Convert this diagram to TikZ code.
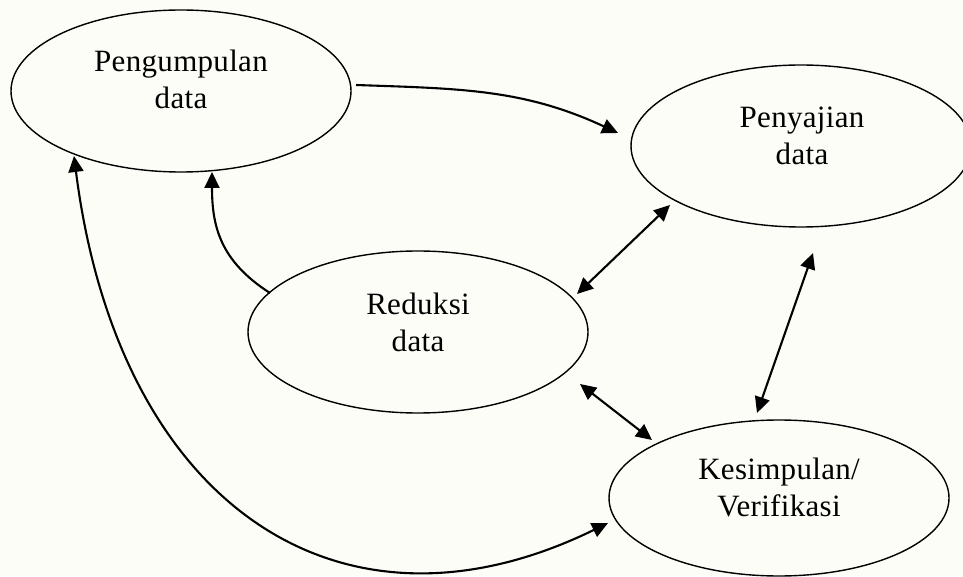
\documentclass[tikz,border=0pt]{standalone}
\usepackage{fontspec}
\setmainfont{Liberation Serif}
\usetikzlibrary{arrows.meta,shapes.geometric,calc}
\definecolor{bgc}{RGB}{252,253,247}
\begin{document}
\begin{tikzpicture}[x=1pt,y=1pt,
  ell/.style={draw=black, ellipse, minimum width=340pt, minimum height=162pt, inner sep=0pt, line width=1.4pt},
  lbl/.style={font=\fontsize{31}{37}\selectfont\addfontfeature{LetterSpace=1}, align=center, inner sep=0pt},
  tip/.tip={Triangle[length=16pt,width=15pt]},
  con/.style={line width=2.1pt, -tip},
  bicon/.style={line width=2.1pt, tip-tip}]
\fill[bgc] (0,0) rectangle (963,576);
\useasboundingbox (0,0) rectangle (963,576);

\node[ell] (peng) at (181,485) {};
\node[ell] (peny) at (801,430) {};
\node[ell] (redu) at (418,244) {};
\node[ell, minimum height=156pt] (kesi) at (779,78) {};

\node[lbl] (pengT) at (181,497) {Pengumpulan\\data};
\node[lbl] (penyT) at (802,440) {Penyajian\\data};
\node[lbl] (reduT) at (418,254) {Reduksi\\data};
\node[lbl] (kesiT) at (779,88.5) {Kesimpulan/\\Verifikasi};

\coordinate (a0) at ($(peng.center)+(175,6)$);
\coordinate (a1) at ($(peny.center)+(-183,13)$);
\coordinate (b0) at ($(redu.center)+(-148,39)$);
\coordinate (b1) at ($(peng.center)+(31,-81)$);
\coordinate (c0) at ($(peng.center)+(-107,-65)$);
\coordinate (c1) at ($(kesi.center)+(-171,-25)$);
\coordinate (d0) at ($(redu.center)+(159,38)$);
\coordinate (d1) at ($(peny.center)+(-131,-59)$);
\coordinate (e0) at ($(kesi.center)+(-22,85)$);
\coordinate (e1) at ($(peny.center)+(12,-107)$);
\coordinate (f0) at ($(redu.center)+(162,-52)$);
\coordinate (f1) at ($(kesi.center)+(-127,58)$);

\draw[con] (a0) to[out=-2, in=155] (a1);
\draw[con] (b0) .. controls +(-50,32) and +(0,-54) .. (b1);
\draw[bicon] (c0) .. controls +(44,-347) and +(-270,-132) .. (c1);
\draw[bicon] (d0) -- (d1);
\draw[bicon] (e0) -- (e1);
\draw[bicon] (f0) -- (f1);
\end{tikzpicture}
\end{document}
